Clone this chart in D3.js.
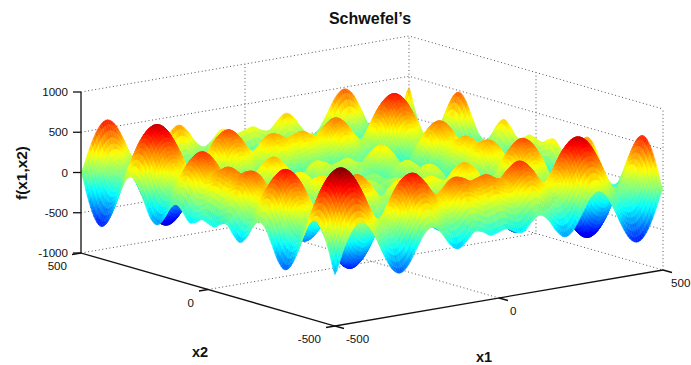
<!DOCTYPE html>
<html>
<head>
<meta charset="utf-8">
<script src="https://cdn.jsdelivr.net/npm/d3@7"></script>
<style>
    html, body { margin: 0; padding: 0; background: #fff; overflow: hidden; }
    text { font-family: "Liberation Sans", Arial, sans-serif; fill: #111; }
</style>
</head>
<body>
<div id="chart"></div>
<script>
const width = 691;
const height = 365;

const gridStep = [-500,-475,-450,-425,-400,-375,-350,-325,-300,-275,-250,-225,-200,-175,-150,-125,-100,-75,-50,-25,0,25,50,75,100,125,150,175,200,225,250,275,300,325,350,375,400,425,450,475,500];
const x1Ticks = [-500, 0, 500];
const x2Ticks = [-500, 0, 500];
const zTicks = [-1000, -500, 0, 500, 1000];

// surface heights, one row per x1 value, columns run along x2
const zRows = [
[-362,-87,135,236,184,4,-230,-419,-481,-392,-207,-35,19,-73,-228,-304,-235,-129,-146,-205,-181,-157,-216,-233,-127,-58,-134,-289,-381,-327,-155,30,119,57,-132,-366,-546,-598,-497,-275,0],
[-87,188,410,511,459,279,45,-144,-206,-117,68,240,294,202,47,-29,40,146,129,70,94,118,59,42,148,217,141,-14,-106,-52,120,305,394,332,143,-91,-271,-323,-222,0,275],
[135,410,632,733,681,501,267,78,16,105,290,462,516,424,269,193,262,368,351,292,316,340,281,264,370,439,363,208,116,170,342,527,616,554,365,131,-49,-101,0,222,497],
[236,511,733,834,782,602,368,179,117,206,391,563,617,525,370,294,363,469,452,393,417,441,382,365,471,540,464,309,217,271,443,628,717,655,466,232,52,0,101,323,598],
[184,459,681,782,730,550,316,127,65,154,339,511,565,473,318,242,311,417,400,341,365,389,330,313,419,488,412,257,165,219,391,576,665,603,414,180,0,-52,49,271,546],
[4,279,501,602,550,370,136,-53,-115,-26,159,331,385,293,138,62,131,237,220,161,185,209,150,133,239,308,232,77,-15,39,211,396,485,423,234,0,-180,-232,-131,91,366],
[-230,45,267,368,316,136,-98,-287,-349,-260,-75,97,151,59,-96,-172,-103,3,-14,-73,-49,-25,-84,-101,5,74,-2,-157,-249,-195,-23,162,251,189,0,-234,-414,-466,-365,-143,132],
[-419,-144,78,179,127,-53,-287,-476,-538,-449,-264,-92,-38,-130,-285,-361,-292,-186,-203,-262,-238,-214,-273,-290,-184,-115,-191,-346,-438,-384,-212,-27,62,0,-189,-423,-603,-655,-554,-332,-57],
[-481,-206,16,117,65,-115,-349,-538,-600,-511,-326,-154,-100,-192,-347,-423,-354,-248,-265,-324,-300,-276,-335,-352,-246,-177,-253,-408,-500,-446,-274,-89,0,-62,-251,-485,-665,-717,-616,-394,-119],
[-392,-117,105,206,154,-26,-260,-449,-511,-422,-237,-65,-11,-103,-258,-334,-265,-159,-176,-235,-211,-187,-246,-263,-157,-88,-164,-319,-411,-357,-185,0,89,27,-162,-396,-576,-628,-527,-305,-30],
[-207,68,290,391,339,159,-75,-264,-326,-237,-52,120,174,82,-73,-149,-80,26,9,-50,-26,-2,-61,-78,28,97,21,-134,-226,-172,0,185,274,212,23,-211,-391,-443,-342,-120,155],
[-35,240,462,563,511,331,97,-92,-154,-65,120,292,346,254,99,23,92,198,181,122,146,170,111,94,200,269,193,38,-54,0,172,357,446,384,195,-39,-219,-271,-170,52,327],
[19,294,516,617,565,385,151,-38,-100,-11,174,346,400,308,153,77,146,252,235,176,200,224,165,148,254,323,247,92,0,54,226,411,500,438,249,15,-165,-217,-116,106,381],
[-73,202,424,525,473,293,59,-130,-192,-103,82,254,308,216,61,-15,54,160,143,84,108,132,73,56,162,231,155,0,-92,-38,134,319,408,346,157,-77,-257,-309,-208,14,289],
[-228,47,269,370,318,138,-96,-285,-347,-258,-73,99,153,61,-94,-170,-101,5,-12,-71,-47,-23,-82,-99,7,76,0,-155,-247,-193,-21,164,253,191,2,-232,-412,-464,-363,-141,134],
[-304,-29,193,294,242,62,-172,-361,-423,-334,-149,23,77,-15,-170,-246,-177,-71,-88,-147,-123,-99,-158,-175,-69,0,-76,-231,-323,-269,-97,88,177,115,-74,-308,-488,-540,-439,-217,58],
[-235,40,262,363,311,131,-103,-292,-354,-265,-80,92,146,54,-101,-177,-108,-2,-19,-78,-54,-30,-89,-106,0,69,-7,-162,-254,-200,-28,157,246,184,-5,-239,-419,-471,-370,-148,127],
[-129,146,368,469,417,237,3,-186,-248,-159,26,198,252,160,5,-71,-2,104,87,28,52,76,17,0,106,175,99,-56,-148,-94,78,263,352,290,101,-133,-313,-365,-264,-42,233],
[-146,129,351,452,400,220,-14,-203,-265,-176,9,181,235,143,-12,-88,-19,87,70,11,35,59,0,-17,89,158,82,-73,-165,-111,61,246,335,273,84,-150,-330,-382,-281,-59,216],
[-205,70,292,393,341,161,-73,-262,-324,-235,-50,122,176,84,-71,-147,-78,28,11,-48,-24,0,-59,-76,30,99,23,-132,-224,-170,2,187,276,214,25,-209,-389,-441,-340,-118,157],
[-181,94,316,417,365,185,-49,-238,-300,-211,-26,146,200,108,-47,-123,-54,52,35,-24,0,24,-35,-52,54,123,47,-108,-200,-146,26,211,300,238,49,-185,-365,-417,-316,-94,181],
[-157,118,340,441,389,209,-25,-214,-276,-187,-2,170,224,132,-23,-99,-30,76,59,0,24,48,-11,-28,78,147,71,-84,-176,-122,50,235,324,262,73,-161,-341,-393,-292,-70,205],
[-216,59,281,382,330,150,-84,-273,-335,-246,-61,111,165,73,-82,-158,-89,17,0,-59,-35,-11,-70,-87,19,88,12,-143,-235,-181,-9,176,265,203,14,-220,-400,-452,-351,-129,146],
[-233,42,264,365,313,133,-101,-290,-352,-263,-78,94,148,56,-99,-175,-106,0,-17,-76,-52,-28,-87,-104,2,71,-5,-160,-252,-198,-26,159,248,186,-3,-237,-417,-469,-368,-146,129],
[-127,148,370,471,419,239,5,-184,-246,-157,28,200,254,162,7,-69,0,106,89,30,54,78,19,2,108,177,101,-54,-146,-92,80,265,354,292,103,-131,-311,-363,-262,-40,235],
[-58,217,439,540,488,308,74,-115,-177,-88,97,269,323,231,76,0,69,175,158,99,123,147,88,71,177,246,170,15,-77,-23,149,334,423,361,172,-62,-242,-294,-193,29,304],
[-134,141,363,464,412,232,-2,-191,-253,-164,21,193,247,155,0,-76,-7,99,82,23,47,71,12,-5,101,170,94,-61,-153,-99,73,258,347,285,96,-138,-318,-370,-269,-47,228],
[-289,-14,208,309,257,77,-157,-346,-408,-319,-134,38,92,0,-155,-231,-162,-56,-73,-132,-108,-84,-143,-160,-54,15,-61,-216,-308,-254,-82,103,192,130,-59,-293,-473,-525,-424,-202,73],
[-381,-106,116,217,165,-15,-249,-438,-500,-411,-226,-54,0,-92,-247,-323,-254,-148,-165,-224,-200,-176,-235,-252,-146,-77,-153,-308,-400,-346,-174,11,100,38,-151,-385,-565,-617,-516,-294,-19],
[-327,-52,170,271,219,39,-195,-384,-446,-357,-172,0,54,-38,-193,-269,-200,-94,-111,-170,-146,-122,-181,-198,-92,-23,-99,-254,-346,-292,-120,65,154,92,-97,-331,-511,-563,-462,-240,35],
[-155,120,342,443,391,211,-23,-212,-274,-185,0,172,226,134,-21,-97,-28,78,61,2,26,50,-9,-26,80,149,73,-82,-174,-120,52,237,326,264,75,-159,-339,-391,-290,-68,207],
[30,305,527,628,576,396,162,-27,-89,0,185,357,411,319,164,88,157,263,246,187,211,235,176,159,265,334,258,103,11,65,237,422,511,449,260,26,-154,-206,-105,117,392],
[119,394,616,717,665,485,251,62,0,89,274,446,500,408,253,177,246,352,335,276,300,324,265,248,354,423,347,192,100,154,326,511,600,538,349,115,-65,-117,-16,206,481],
[57,332,554,655,603,423,189,0,-62,27,212,384,438,346,191,115,184,290,273,214,238,262,203,186,292,361,285,130,38,92,264,449,538,476,287,53,-127,-179,-78,144,419],
[-132,143,365,466,414,234,0,-189,-251,-162,23,195,249,157,2,-74,-5,101,84,25,49,73,14,-3,103,172,96,-59,-151,-97,75,260,349,287,98,-136,-316,-368,-267,-45,230],
[-366,-91,131,232,180,0,-234,-423,-485,-396,-211,-39,15,-77,-232,-308,-239,-133,-150,-209,-185,-161,-220,-237,-131,-62,-138,-293,-385,-331,-159,26,115,53,-136,-370,-550,-602,-501,-279,-4],
[-546,-271,-49,52,0,-180,-414,-603,-665,-576,-391,-219,-165,-257,-412,-488,-419,-313,-330,-389,-365,-341,-400,-417,-311,-242,-318,-473,-565,-511,-339,-154,-65,-127,-316,-550,-730,-782,-681,-459,-184],
[-598,-323,-101,0,-52,-232,-466,-655,-717,-628,-443,-271,-217,-309,-464,-540,-471,-365,-382,-441,-417,-393,-452,-469,-363,-294,-370,-525,-617,-563,-391,-206,-117,-179,-368,-602,-782,-834,-733,-511,-236],
[-497,-222,0,101,49,-131,-365,-554,-616,-527,-342,-170,-116,-208,-363,-439,-370,-264,-281,-340,-316,-292,-351,-368,-262,-193,-269,-424,-516,-462,-290,-105,-16,-78,-267,-501,-681,-733,-632,-410,-135],
[-275,0,222,323,271,91,-143,-332,-394,-305,-120,52,106,14,-141,-217,-148,-42,-59,-118,-94,-70,-129,-146,-40,29,-47,-202,-294,-240,-68,117,206,144,-45,-279,-459,-511,-410,-188,87],
[0,275,497,598,546,366,132,-57,-119,-30,155,327,381,289,134,58,127,233,216,157,181,205,146,129,235,304,228,73,-19,35,207,392,481,419,230,-4,-184,-236,-135,87,362]
];

// Screen vectors of the 3D box
const frontCorner = [335, 326];
const x1Vec = [328, -56];
const x2Vec = [-254, -73];
const zVec = [0, -161];

const x1Scale = d3.scaleLinear().domain([-500, 500]).range([0, 1]);
const x2Scale = d3.scaleLinear().domain([-500, 500]).range([0, 1]);
const zScale = d3.scaleLinear().domain([-1000, 1000]).range([0, 1]);

function project(x1, x2, z) {
    const u = x1Scale(x1), v = x2Scale(x2), w = zScale(z);
    return [
        frontCorner[0] + u * x1Vec[0] + v * x2Vec[0] + w * zVec[0],
        frontCorner[1] + u * x1Vec[1] + v * x2Vec[1] + w * zVec[1]
    ];
}

// jet colormap with 64 levels, like the MATLAB default
const jetRamp = d3.scaleLinear()
    .domain([0, 0.125, 0.375, 0.625, 0.875, 1])
    .range(["#00007f", "#0000ff", "#00ffff", "#ffff00", "#ff0000", "#7f0000"]);
const colorScale = d3.scaleQuantize()
    .domain([-838, 838])
    .range(d3.range(64).map(i => jetRamp((i + 0.5) / 64)));

const svg = d3.select("#chart").append("svg")
    .attr("width", width)
    .attr("height", height)
    .style("display", "block");

const line = d3.line();

// Dotted box and grid lines behind the surface
const gridLayer = svg.append("g")
    .attr("fill", "none")
    .attr("stroke", "#555")
    .attr("stroke-width", 1)
    .attr("stroke-dasharray", "1,2.6");

zTicks.forEach(z => {
    gridLayer.append("path").attr("d", line([project(-500, 500, z), project(500, 500, z), project(500, -500, z)]));
});
gridLayer.append("path").attr("d", line([project(500, 500, -1000), project(500, 500, 1000)]));
gridLayer.append("path").attr("d", line([project(500, -500, -1000), project(500, -500, 1000)]));
gridLayer.append("path").attr("d", line([project(0, -500, -1000), project(0, 500, -1000), project(0, 500, 1000)]));
gridLayer.append("path").attr("d", line([project(-500, 0, -1000), project(500, 0, -1000), project(500, 0, 1000)]));

// Catmull-Rom through the grid heights, so the facets are finer than the table
function catmull(p0, p1, p2, p3, t) {
    return 0.5 * (2 * p1 + (p2 - p0) * t + (2 * p0 - 5 * p1 + 4 * p2 - p3) * t * t + (3 * p1 - p0 - 3 * p2 + p3) * t * t * t);
}
const last = gridStep.length - 1;
const clampIdx = i => Math.max(0, Math.min(last, i));
function surfaceAt(a, b) {
    const i = Math.min(last - 1, Math.floor(a)), j = Math.min(last - 1, Math.floor(b));
    const s = a - i, t = b - j;
    const rowVals = [-1, 0, 1, 2].map(di => {
        const row = zRows[clampIdx(i + di)];
        return catmull(row[clampIdx(j - 1)], row[j], row[j + 1], row[clampIdx(j + 2)], t);
    });
    return catmull(rowVals[0], rowVals[1], rowVals[2], rowVals[3], s);
}

// Build the facets, painted from the back corner to the front one
const subdiv = 4;
const nCells = last * subdiv;
const stepToX = d3.scaleLinear().domain([0, nCells]).range([gridStep[0], gridStep[last]]);
const facets = [];
for (let i = nCells - 1; i >= 0; i--) {
    for (let j = nCells - 1; j >= 0; j--) {
        const corners = [[i, j], [i + 1, j], [i + 1, j + 1], [i, j + 1]].map(c => {
            const z = surfaceAt(c[0] / subdiv, c[1] / subdiv);
            return { z: z, p: project(stepToX(c[0]), stepToX(c[1]), z) };
        });
        facets.push({
            d: line(corners.map(c => c.p)) + "Z",
            color: colorScale(d3.mean(corners, c => c.z))
        });
    }
}

svg.append("g")
    .attr("class", "surface")
    .selectAll("path")
    .data(facets)
    .enter()
    .append("path")
    .attr("d", d => d.d)
    .attr("fill", d => d.color)
    .attr("stroke", d => d.color)
    .attr("stroke-width", 0.5);

// Solid axes and ticks
const axisLayer = svg.append("g")
    .attr("fill", "none")
    .attr("stroke", "#111")
    .attr("stroke-width", 1.3);

axisLayer.append("path").attr("d", line([project(-500, 500, 1000), project(-500, 500, -1000), project(-500, -500, -1000), project(500, -500, -1000)]));

zTicks.forEach(z => {
    const p = project(-500, 500, z);
    axisLayer.append("path").attr("d", line([p, [p[0] - 8, p[1]]]));
});
x2Ticks.forEach(v => {
    const p = project(-500, v, -1000);
    axisLayer.append("path").attr("d", line([p, [p[0] - 9, p[1] + 1.5]]));
});
x1Ticks.forEach(v => {
    const p = project(v, -500, -1000);
    axisLayer.append("path").attr("d", line([p, [p[0] + 9, p[1] + 2.5]]));
});

// Tick labels
const tickFont = "11.6px";
zTicks.forEach(z => {
    const p = project(-500, 500, z);
    svg.append("text").attr("x", p[0] - 13).attr("y", p[1]).attr("dy", ".35em")
        .attr("text-anchor", "end").style("font-size", tickFont).text(z);
});
x2Ticks.forEach(v => {
    const p = project(-500, v, -1000);
    svg.append("text").attr("x", p[0] - 14).attr("y", p[1] + 13).attr("dy", ".35em")
        .attr("text-anchor", "end").style("font-size", tickFont).text(v);
});
x1Ticks.forEach(v => {
    const p = project(v, -500, -1000);
    // the 500 label sits right at the page edge, so it is held just inside it
    svg.append("text").attr("x", Math.min(p[0] + 11, 671)).attr("y", p[1] + 13).attr("dy", ".35em")
        .attr("text-anchor", "start").style("font-size", tickFont).text(v);
});

// Title and axis labels
svg.append("text").attr("x", 370).attr("y", 24).attr("text-anchor", "middle")
    .style("font-size", "16px").style("font-weight", "bold").text("Schwefel\u2019s");
svg.append("text").attr("x", 200).attr("y", 357).attr("text-anchor", "middle")
    .style("font-size", "14.5px").style("font-weight", "bold").text("x2");
svg.append("text").attr("x", 484).attr("y", 362).attr("text-anchor", "middle")
    .style("font-size", "14.5px").style("font-weight", "bold").text("x1");
svg.append("text").attr("transform", "translate(27,173) rotate(-90)").attr("text-anchor", "middle")
    .style("font-size", "15.4px").style("font-weight", "bold").text("f(x1,x2)");
</script>
</body>
</html>
